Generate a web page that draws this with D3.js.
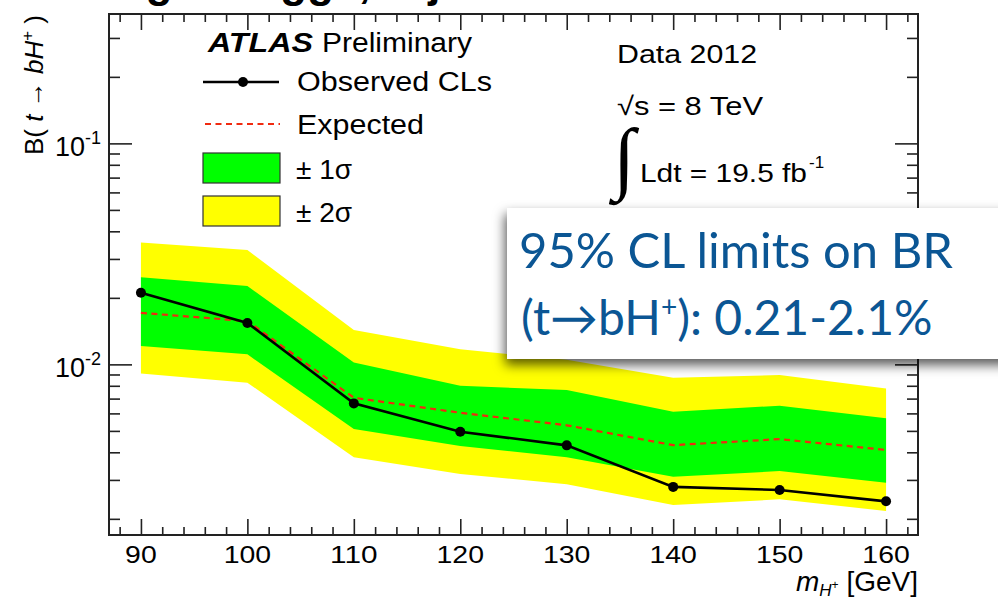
<!DOCTYPE html>
<html>
<head>
<meta charset="utf-8">
<script src="https://cdn.jsdelivr.net/npm/d3@7"></script>
<style>
  html, body { margin: 0; padding: 0; background: #fff; overflow: hidden; }
  svg { display: block; }
</style>
</head>
<body>
<svg id="chart" width="998" height="601"></svg>
<script>
// Charged Higgs mass points [GeV]
const masses = [90, 100, 110, 120, 130, 140, 150, 160];
// 95% CL upper limits on B(t -> bH+)
const observed   = [0.0211, 0.0154, 0.00666, 0.00496, 0.0043, 0.00279, 0.0027, 0.0024];
const expected   = [0.0171, 0.0157, 0.00706, 0.00604, 0.0053, 0.00431, 0.00459, 0.0041];
const sigma1Up   = [0.0248, 0.0226, 0.0102, 0.0080, 0.00765, 0.0061, 0.0065, 0.0057];
const sigma1Down = [0.0121, 0.0111, 0.0051, 0.00427, 0.0038, 0.0031, 0.00329, 0.00291];
const sigma2Up   = [0.0356, 0.0329, 0.0143, 0.0117, 0.0105, 0.0087, 0.00895, 0.00778];
const sigma2Down = [0.0091, 0.00826, 0.0038, 0.00319, 0.00287, 0.00231, 0.00245, 0.00217];
// Axis ticks
const xMajorTicks = [90, 100, 110, 120, 130, 140, 150, 160];
const xMinorTicks = d3.range(88, 163, 2).filter(v => v % 10 !== 0);
const yMajorTicks = [0.01, 0.1];
const yTickExponents = ["-2", "-1"];
const yMinorTicks = [2,3,4,5,6,7,8,9].map(k => k * 0.001)
  .concat([2,3,4,5,6,7,8,9].map(k => k * 0.01))
  .concat([2,3].map(k => k * 0.1));

const SANS = "'Liberation Sans', Arial, Helvetica, sans-serif";
const svg = d3.select("#chart").style("font-family", SANS);
const L = 109, R = 918, T = 14, B = 535;

const x = d3.scaleLinear().domain([87, 163]).range([L, R]);
const y = d3.scaleLog().domain([0.00169, 0.385]).range([B, T]);

const rows = masses.map((m, i) => ({
  m, obs: observed[i], exp: expected[i],
  s1u: sigma1Up[i], s1d: sigma1Down[i], s2u: sigma2Up[i], s2d: sigma2Down[i]
}));

// Slide heading above the plot; only its descenders reach the page
svg.append("text")
  .attr("x", -177).attr("y", -3)
  .attr("font-size", 44).attr("font-weight", "bold")
  .text("Search for charged Higgs, τ+jets");

// Bands
const area = (lo, hi) => d3.area().x(d => x(d.m)).y0(d => y(d[lo])).y1(d => y(d[hi]));
svg.append("path").datum(rows).attr("d", area("s2d", "s2u")).attr("fill", "#ffff00");
svg.append("path").datum(rows).attr("d", area("s1d", "s1u")).attr("fill", "#00ff00");

// Expected
svg.append("path").datum(rows)
  .attr("d", d3.line().x(d => x(d.m)).y(d => y(d.exp)))
  .attr("fill", "none").attr("stroke", "#f02a10").attr("stroke-width", 2.2)
  .attr("stroke-dasharray", "6,4.5");

// Observed
svg.append("path").datum(rows)
  .attr("d", d3.line().x(d => x(d.m)).y(d => y(d.obs)))
  .attr("fill", "none").attr("stroke", "#000").attr("stroke-width", 2.6);
svg.selectAll("circle.obs").data(rows).join("circle")
  .attr("class", "obs")
  .attr("cx", d => x(d.m)).attr("cy", d => y(d.obs)).attr("r", 5).attr("fill", "#000");

// Axes: ticks on all four sides, pointing inward
const axisStyle = g => {
  g.select(".domain").remove();
  g.selectAll("line").attr("stroke", "#222").attr("stroke-width", 1.6);
  g.selectAll("text").remove();
};
svg.append("g").attr("transform", `translate(0,${B})`)
  .call(d3.axisBottom(x).tickValues(xMajorTicks).tickSize(-16)).call(axisStyle);
svg.append("g").attr("transform", `translate(0,${B})`)
  .call(d3.axisBottom(x).tickValues(xMinorTicks).tickSize(-8)).call(axisStyle);
svg.append("g").attr("transform", `translate(0,${T})`)
  .call(d3.axisTop(x).tickValues(xMajorTicks).tickSize(-16)).call(axisStyle);
svg.append("g").attr("transform", `translate(0,${T})`)
  .call(d3.axisTop(x).tickValues(xMinorTicks).tickSize(-8)).call(axisStyle);
svg.append("g").attr("transform", `translate(${L},0)`)
  .call(d3.axisLeft(y).tickValues(yMajorTicks).tickSize(-23)).call(axisStyle);
svg.append("g").attr("transform", `translate(${L},0)`)
  .call(d3.axisLeft(y).tickValues(yMinorTicks).tickSize(-11)).call(axisStyle);
svg.append("g").attr("transform", `translate(${R},0)`)
  .call(d3.axisRight(y).tickValues(yMajorTicks).tickSize(-23)).call(axisStyle);
svg.append("g").attr("transform", `translate(${R},0)`)
  .call(d3.axisRight(y).tickValues(yMinorTicks).tickSize(-11)).call(axisStyle);

// Frame
svg.append("rect").attr("x", L).attr("y", T).attr("width", R - L).attr("height", B - T)
  .attr("fill", "none").attr("stroke", "#222").attr("stroke-width", 2);

// X tick labels
svg.selectAll("text.xl").data(xMajorTicks).join("text")
  .attr("class", "xl")
  .attr("x", d => x(d)).attr("y", 563)
  .attr("text-anchor", "middle").attr("font-size", 23)
  .attr("textLength", d => String(d).length * 15.8)
  .attr("lengthAdjust", "spacingAndGlyphs")
  .text(d => d);

// Y tick labels
yMajorTicks.forEach((v, i) => {
  const t = svg.append("text")
    .attr("x", 101).attr("y", y(v) + 13)
    .attr("text-anchor", "end").attr("font-size", 27);
  t.append("tspan").text("10");
  t.append("tspan").attr("dy", -12).attr("font-size", 18).text(yTickExponents[i]);
});

// X axis title
{
  const t = svg.append("text").attr("x", R).attr("y", 591)
    .attr("text-anchor", "end").attr("font-size", 28);
  t.append("tspan").attr("font-style", "italic").text("m");
  t.append("tspan").attr("font-style", "italic").attr("font-size", 17).attr("dy", 5).text("H");
  t.append("tspan").attr("font-size", 12).attr("dy", -7).text("+");
  t.append("tspan").attr("dy", 2).text(" [GeV]");
}

// Y axis title
{
  const t = svg.append("text")
    .attr("transform", "translate(43,15) rotate(-90)")
    .attr("text-anchor", "end").attr("font-size", 26);
  t.append("tspan").text("B( ");
  t.append("tspan").attr("font-style", "italic").text("t");
  t.append("tspan").text(" → ");
  t.append("tspan").attr("font-style", "italic").text("bH");
  t.append("tspan").attr("font-size", 17).attr("dy", -10).text("+");
  t.append("tspan").attr("dy", 10).text(" )");
}

// Legend
{
  svg.append("text").attr("x", 208).attr("y", 52).attr("font-size", 27)
    .attr("font-weight", "bold").attr("font-style", "italic")
    .attr("textLength", 105).attr("lengthAdjust", "spacingAndGlyphs").text("ATLAS");
  svg.append("text").attr("x", 322).attr("y", 52).attr("font-size", 27)
    .attr("textLength", 150).attr("lengthAdjust", "spacingAndGlyphs").text("Preliminary");

  svg.append("line").attr("x1", 203).attr("x2", 279).attr("y1", 82).attr("y2", 82)
    .attr("stroke", "#000").attr("stroke-width", 2.6);
  svg.append("circle").attr("cx", 243).attr("cy", 82).attr("r", 5).attr("fill", "#000");
  svg.append("text").attr("x", 297).attr("y", 91).attr("font-size", 27)
    .attr("textLength", 195).attr("lengthAdjust", "spacingAndGlyphs").text("Observed CLs");

  svg.append("line").attr("x1", 205).attr("x2", 280).attr("y1", 124).attr("y2", 124)
    .attr("stroke", "#f02a10").attr("stroke-width", 2.2).attr("stroke-dasharray", "6,4.5");
  svg.append("text").attr("x", 297).attr("y", 134).attr("font-size", 27)
    .attr("textLength", 127).attr("lengthAdjust", "spacingAndGlyphs").text("Expected");

  svg.append("rect").attr("x", 203).attr("y", 153).attr("width", 77).attr("height", 30)
    .attr("fill", "#00ff00").attr("stroke", "#333").attr("stroke-width", 1.2);
  svg.append("text").attr("x", 296).attr("y", 179).attr("font-size", 28).text("± 1σ");

  svg.append("rect").attr("x", 203).attr("y", 196).attr("width", 77).attr("height", 30)
    .attr("fill", "#ffff00").attr("stroke", "#333").attr("stroke-width", 1.2);
  svg.append("text").attr("x", 296).attr("y", 222).attr("font-size", 28).text("± 2σ");
}

// Dataset info
svg.append("text").attr("x", 617).attr("y", 63).attr("font-size", 26)
  .attr("textLength", 140).attr("lengthAdjust", "spacingAndGlyphs").text("Data 2012");
svg.append("text").attr("x", 617).attr("y", 115).attr("font-size", 26)
  .attr("textLength", 146).attr("lengthAdjust", "spacingAndGlyphs").text("√s = 8 TeV");
svg.append("text").attr("x", 613).attr("y", 184).attr("font-size", 80)
  .style("font-family", "'Liberation Serif', 'Times New Roman', serif").text("∫");
svg.append("text").attr("x", 640).attr("y", 182).attr("font-size", 26)
  .attr("textLength", 167).attr("lengthAdjust", "spacingAndGlyphs").text("Ldt = 19.5 fb");
svg.append("text").attr("x", 809).attr("y", 168).attr("font-size", 17).text("-1");

// Callout box
const defs = svg.append("defs");
const f = defs.append("filter").attr("id", "shadow")
  .attr("x", "-10%").attr("y", "-10%").attr("width", "130%").attr("height", "140%");
f.append("feDropShadow").attr("dx", -2).attr("dy", 6).attr("stdDeviation", 6)
  .attr("flood-color", "#000").attr("flood-opacity", 0.65);
svg.append("rect").attr("x", 507).attr("y", 208).attr("width", 520).attr("height", 151)
  .attr("fill", "#fff").attr("filter", "url(#shadow)");
const CALLOUT = "Lato, 'Open Sans', sans-serif";
svg.append("text").attr("x", 519).attr("y", 268).attr("font-size", 48)
  .style("font-family", CALLOUT).attr("fill", "#0b5694")
  .attr("textLength", 434).attr("lengthAdjust", "spacingAndGlyphs")
  .text("95% CL limits on BR");
{
  const t = svg.append("text").attr("x", 521).attr("y", 335).attr("font-size", 48)
    .style("font-family", CALLOUT).attr("fill", "#0b5694");
  t.append("tspan").text("(t→bH");
  t.append("tspan").attr("font-size", 28).attr("dy", -18).text("+");
  t.append("tspan").attr("dy", 18).text("): 0.21-2.1%");
}
</script>
</body>
</html>
